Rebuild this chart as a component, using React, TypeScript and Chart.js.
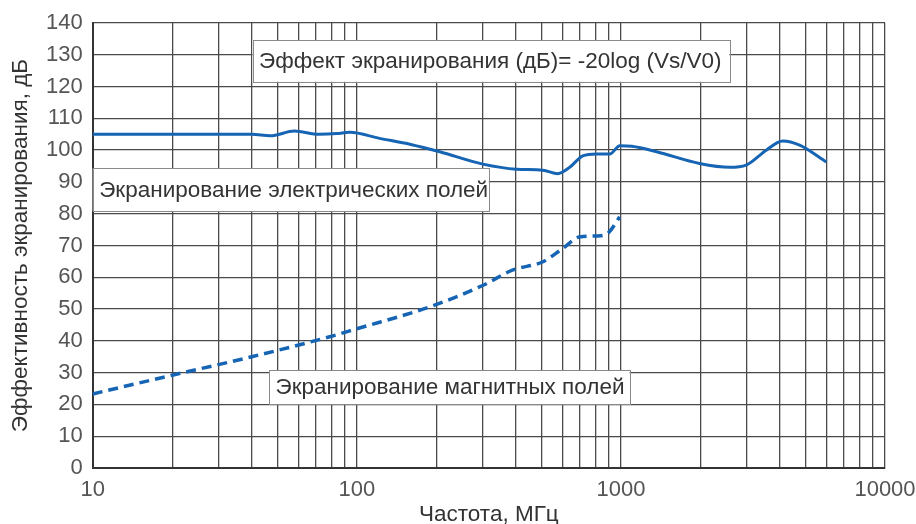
import React, { useEffect, useRef } from "react";
import { Chart, registerables } from "chart.js";

Chart.register(...registerables);

// ---- data ----
const electricFreq = [10, 20, 30, 40, 47, 58, 72, 84, 94, 122, 160, 206, 300, 403, 506, 577, 640, 717, 808, 908, 990, 1100, 1365, 1985, 2580, 2980, 3550, 4100, 4750, 6000];
const electricDb = [105, 105, 105, 105, 104.5, 106, 105, 105.2, 105.6, 103.7, 101.8, 99.5, 95.6, 94, 93.7, 92.6, 94.6, 98.2, 98.8, 98.8, 101.4, 101.2, 99.5, 95.8, 94.6, 95.3, 100, 102.9, 101.6, 96.3];

const magneticFreq = [10, 20, 40, 79, 100, 189, 301, 390, 507, 603, 697, 807, 890, 990];
const magneticDb = [23.3, 29.2, 35, 41.3, 43.8, 50.7, 57.5, 62.3, 64.9, 69.1, 72.7, 73, 73.8, 79];

const xMajorTicks = [10, 100, 1000, 10000];
const xMinorMultipliers = [1, 2, 3, 4, 5, 6, 7, 8, 9];
const yTicks = [0, 10, 20, 30, 40, 50, 60, 70, 80, 90, 100, 110, 120, 130, 140];

const xTitle = "Частота, МГц";
const yTitle = "Эффективность экранирования, дБ";

const annotationTexts = [
  "Эффект экранирования (дБ)= -20log (Vs/V0)",
  "Экранирование электрических полей",
  "Экранирование магнитных полей",
];
// box corners in data units: [xLeft, yTop, xRight, yBottom]
const annotationBoxes = [
  [40.3, 134.6, 2576, 121.5],
  [10, 94.3, 316, 80.8],
  [46.5, 30.8, 1079, 20.1],
];

const FONT = "'Liberation Sans', Arial, sans-serif";

const annotationPlugin = {
  id: "textBoxes",
  afterDatasetsDraw(chart: any) {
    const { ctx, scales } = chart;
    const xs = scales.x;
    const ys = scales.y;
    ctx.save();
    annotationTexts.forEach((t, i) => {
      const [x1, y1, x2, y2] = annotationBoxes[i];
      const l = xs.getPixelForValue(x1);
      const r = xs.getPixelForValue(x2);
      const tp = ys.getPixelForValue(y1);
      const b = ys.getPixelForValue(y2);
      ctx.fillStyle = "#ffffff";
      ctx.fillRect(l, tp, r - l, b - tp);
      ctx.strokeStyle = "#8a8a8a";
      ctx.lineWidth = 1;
      ctx.strokeRect(Math.round(l) + 0.5, Math.round(tp) + 0.5, Math.round(r - l), Math.round(b - tp));
      ctx.fillStyle = "#333333";
      ctx.font = `22.5px ${FONT}`;
      ctx.textBaseline = "middle";
      ctx.textAlign = "left";
      ctx.fillText(t, l + 6.5, (tp + b) / 2 + 1);
    });
    ctx.restore();
  },
};

export default function App() {
  const ref = useRef<HTMLCanvasElement | null>(null);

  useEffect(() => {
    document.body.style.margin = "0";
    const canvas = ref.current;
    if (!canvas) return;
    const xTickValues: number[] = [];
    for (let d = 0; d < xMajorTicks.length - 1; d++) {
      xMinorMultipliers.forEach((m) => xTickValues.push(xMajorTicks[d] * m));
    }
    xTickValues.push(xMajorTicks[xMajorTicks.length - 1]);

    const chart = new Chart(canvas, {
      type: "line",
      data: {
        datasets: [
          {
            label: "Электрические поля",
            data: electricFreq.map((f, i) => ({ x: f, y: electricDb[i] })),
            borderColor: "#1664b4",
            borderWidth: 3,
            pointRadius: 0,
            cubicInterpolationMode: "monotone",
            fill: false,
          },
          {
            label: "Магнитные поля",
            data: magneticFreq.map((f, i) => ({ x: f, y: magneticDb[i] })),
            borderColor: "#1664b4",
            borderWidth: 3.5,
            borderDash: [10, 6],
            pointRadius: 0,
            cubicInterpolationMode: "monotone",
            fill: false,
          },
        ],
      },
      options: {
        responsive: false,
        animation: false,
        layout: { padding: { left: 0, top: 23, right: 31, bottom: 0 } },
        plugins: {
          legend: { display: false },
          tooltip: { enabled: false },
        },
        scales: {
          x: {
            type: "logarithmic",
            min: 10,
            max: 10000,
            afterBuildTicks: (scale: any) => {
              scale.ticks = xTickValues.map((v) => ({ value: v }));
            },
            afterFit: (scale: any) => {
              scale.height = 56;
              scale.paddingLeft = 0;
              scale.paddingRight = 0;
            },
            grid: { color: "#4a4a4a", lineWidth: 1.3, drawTicks: false },
            border: { display: true, color: "#333333", width: 2 },
            ticks: {
              autoSkip: false,
              maxRotation: 0,
              padding: 9,
              color: "#555555",
              font: { family: FONT, size: 22 },
              callback: (v: any) => (xMajorTicks.includes(Number(v)) ? String(v) : ""),
            },
            title: {
              display: true,
              text: xTitle,
              color: "#333333",
              font: { family: FONT, size: 22.5, lineHeight: 1 },
              padding: { top: 0, bottom: -2 },
            },
          },
          y: {
            type: "linear",
            min: 0,
            max: 140,
            afterBuildTicks: (scale: any) => {
              scale.ticks = yTicks.map((v) => ({ value: v }));
            },
            afterFit: (scale: any) => {
              scale.width = 92.7;
              scale.paddingTop = 0;
              scale.paddingBottom = 0;
            },
            grid: { color: "#4a4a4a", lineWidth: 1.3, drawTicks: false },
            border: { display: true, color: "#333333", width: 2 },
            ticks: {
              padding: 10,
              color: "#555555",
              font: { family: FONT, size: 22 },
            },
            title: {
              display: true,
              text: yTitle,
              color: "#333333",
              font: { family: FONT, size: 22.5, lineHeight: 1 },
              padding: { top: 9.5, bottom: 0 },
            },
          },
        },
      },
      plugins: [annotationPlugin],
    } as any);
    return () => chart.destroy();
  }, []);

  return <canvas ref={ref} width={916} height={524} style={{ display: "block" }} />;
}
